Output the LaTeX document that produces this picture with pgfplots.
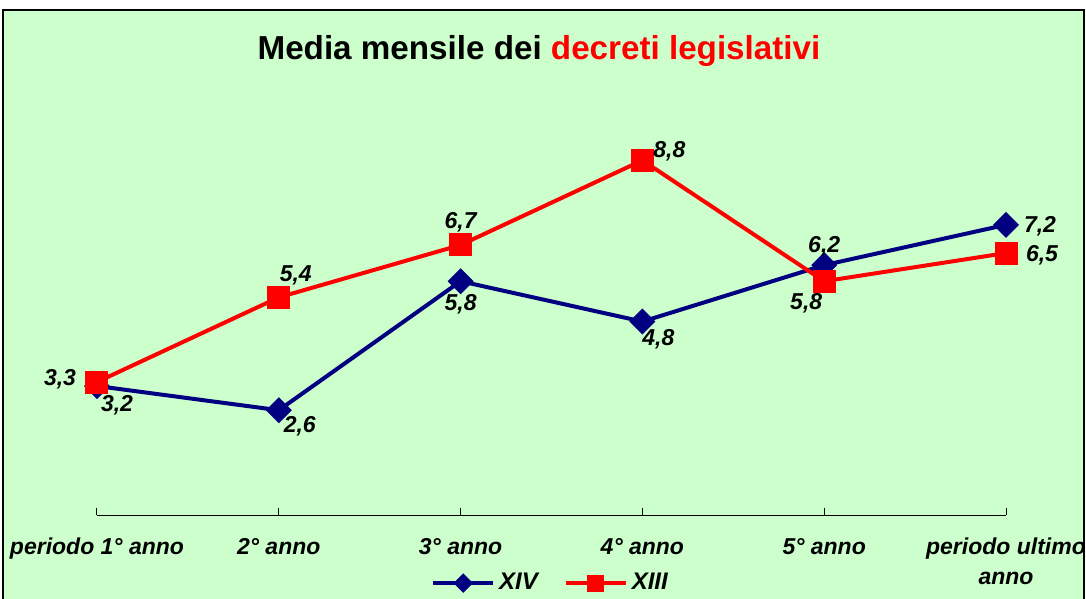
\documentclass[border=0pt]{standalone}
\usepackage{pgfplots}
\pgfplotsset{compat=1.18}
\usepackage{fontspec}
\setmainfont{Liberation Sans}
\definecolor{bgc}{HTML}{CCFFCC}
\definecolor{xivblue}{HTML}{000080}
\definecolor{xiiired}{HTML}{FF0000}
\newcommand{\lab}{\bfseries\itshape\fontsize{11.5bp}{15bp}\selectfont}
\begin{document}
\begin{tikzpicture}
% sfondo e cornice
\fill[bgc] (-47bp,-45bp) rectangle (493.5bp,252.5bp);
\draw[black, line width=0.8bp] (-47bp,-45bp) -- (-47bp,252.5bp) -- (493.5bp,252.5bp) -- (493.5bp,-45bp);
\begin{axis}[
  at={(0,0)}, anchor=south west,
  scale only axis,
  width=454.5bp, height=201.5bp,
  xmin=0, xmax=5, ymin=0, ymax=10,
  clip=false,
  axis x line*=bottom,
  axis y line=none,
  x axis line style={-, line width=0.5bp},
  xtick={0,1,2,3,4,5},
  xticklabels={periodo 1° anno, 2° anno, 3° anno, 4° anno, 5° anno, {periodo ultimo\\anno}},
  xticklabel style={font=\lab, align=center, anchor=north, yshift=-8bp},
  xtick align=inside,
  major tick length=3.5bp,
  every tick/.style={black, line width=0.5bp},
  ytick=\empty,
  /pgf/number format/.cd, use comma, fixed, fixed zerofill, precision=1, assume math mode=true,
  /pgfplots/.cd,
  nodes near coords,
  visualization depends on={\thisrow{dx}\as\labdx},
  visualization depends on={\thisrow{dy}\as\labdy},
  nodes near coords style={font=\lab, black, anchor=center, inner sep=0pt, xshift=\labdx bp, yshift=\labdy bp},
  legend columns=2,
  legend style={at={(0.5,-0.169)}, anchor=center, draw=none, fill=none,
    font=\bfseries\itshape\fontsize{12bp}{14bp}\selectfont,
    /tikz/every even column/.append style={column sep=11bp}},
  legend image code/.code={
    \draw[#1, mark=none] (0bp,0bp) -- (30bp,0bp);
    \draw[#1, every mark/.append style={scale=0.68}] plot coordinates {(15bp,0bp)};
  },
]
% XIV
\addplot[color=xivblue, line width=2bp, mark=square*, mark size=3.6bp,
  mark options={rotate=45, solid}] table {
x y dx dy
0 3.2 10 -9.5
1 2.6 10.5 -8
2 5.8 0 -11.5
3 4.8 8 -9
4 6.2 0 9.5
5 7.2 17 -0.5
};
\addlegendentry{XIV}
% XIII
\addplot[color=xiiired, line width=2bp, mark=square*, mark size=4.75bp,
  mark options={solid}] table {
x y dx dy
0 3.3 -18.5 1.5
1 5.4 8.5 11
2 6.7 0 11.5
3 8.8 13.5 4.5
4 5.8 -9 -11
5 6.5 18 -1
};
\addlegendentry{XIII}
\end{axis}
\node[anchor=base, font=\bfseries\fontsize{16.6bp}{19bp}\selectfont] at (221bp,227.5bp)
  {Media mensile dei \textcolor{xiiired}{decreti legislativi}};
\pgfresetboundingbox
\useasboundingbox (-48.5bp,-42bp) rectangle (494.5bp,257.5bp);
\end{tikzpicture}
\end{document}
